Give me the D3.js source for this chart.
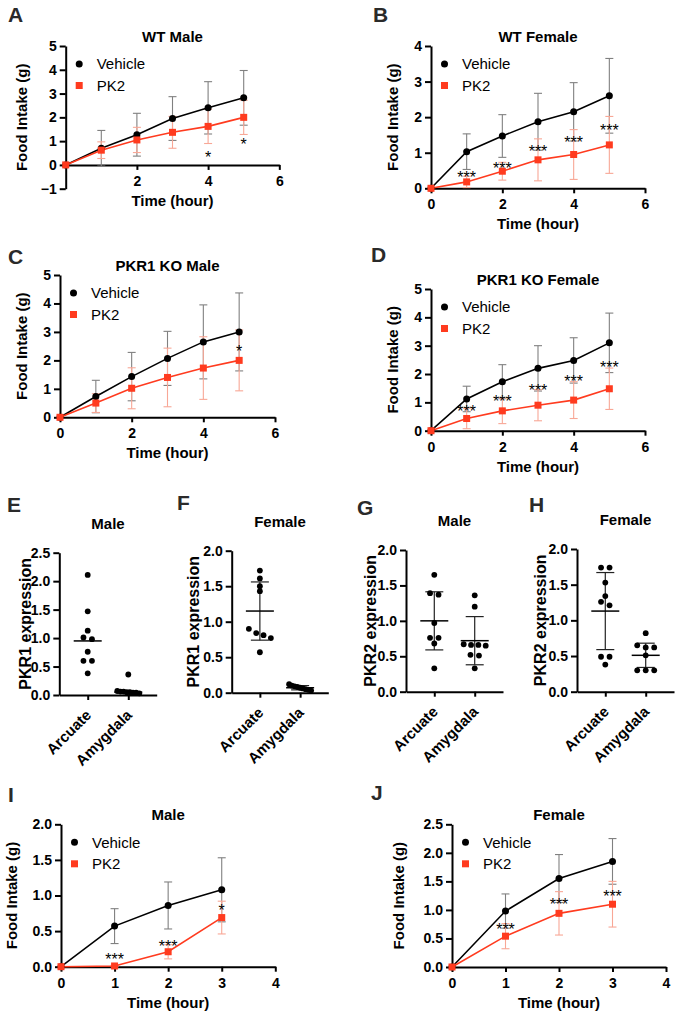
<!DOCTYPE html>
<html><head><meta charset="utf-8">
<script src="https://cdn.jsdelivr.net/npm/d3@7"></script>
<style>
body{margin:0;background:#fff}
svg{display:block}
text{font-family:"Liberation Sans",Arial,sans-serif}
</style>
</head><body>
<svg id="c" width="692" height="1017"></svg>
<script>
// ---------------- DATA ----------------
const seriesNames = ["Vehicle", "PK2"];

// A: WT Male
const aHours = [0,1,2,3,4,5];
const aVehMean = [0,0.70,1.27,1.95,2.40,2.82];
const aVehSD   = [0,0.75,0.90,0.92,1.10,1.15];
const aPkMean  = [0,0.62,1.05,1.37,1.62,2.00];
const aPkSD    = [0,0.35,0.53,0.67,0.72,0.72];
const aStarHours = [4,5];
const aStarLevels = [0.48,1.04];
const aStarLabels = ["*","*"];

// B: WT Female
const bHours = [0,1,2,3,4,5];
const bVehMean = [0,1.03,1.47,1.87,2.15,2.60];
const bVehSD   = [0,0.50,0.60,0.80,0.82,1.05];
const bPkMean  = [0,0.18,0.48,0.80,0.95,1.22];
const bPkSD    = [0,0.16,0.25,0.59,0.70,0.80];
const bStarHours = [1,2,3,4,5];
const bStarLevels = [0.42,0.67,1.15,1.40,1.75];
const bStarLabels = ["***","***","***","***","***"];

// C: PKR1 KO Male
const cHours = [0,1,2,3,4,5];
const cVehMean = [0,0.73,1.43,2.07,2.65,3.00];
const cVehSD   = [0,0.57,0.85,0.95,1.30,1.37];
const cPkMean  = [0,0.50,1.02,1.40,1.73,2.00];
const cPkSD    = [0,0.33,0.72,1.03,1.10,1.07];
const cStarHours = [5];
const cStarLevels = [2.48];
const cStarLabels = ["*"];

// D: PKR1 KO Female
const dHours = [0,1,2,3,4,5];
const dVehMean = [0,1.12,1.73,2.20,2.48,3.10];
const dVehSD   = [0,0.45,0.60,0.80,0.80,1.05];
const dPkMean  = [0,0.43,0.70,0.90,1.08,1.48];
const dPkSD    = [0,0.36,0.45,0.55,0.65,0.73];
const dStarHours = [1,2,3,4,5];
const dStarLevels = [0.82,1.18,1.58,1.88,2.38];
const dStarLabels = ["***","***","***","***","***"];

// I: Male (3 h)
const iHours = [0,1,2,3];
const iVehMean = [0,0.57,0.86,1.08];
const iVehSD   = [0,0.245,0.33,0.45];
const iPkMean  = [0,0.01,0.21,0.69];
const iPkSD    = [0,0.01,0.10,0.23];
const iStarHours = [1,2,3];
const iStarLevels = [0.16,0.35,0.85];
const iStarLabels = ["***","***","*"];

// J: Female (3 h)
const jHours = [0,1,2,3];
const jVehMean = [0,0.98,1.55,1.85];
const jVehSD   = [0,0.30,0.42,0.40];
const jPkMean  = [0,0.54,0.94,1.10];
const jPkSD    = [0,0.22,0.38,0.40];
const jStarHours = [1,2,3];
const jStarLevels = [0.74,1.18,1.31];
const jStarLabels = ["***","***","***"];

// Tick labels
const ticksA_y = [-1,0,1,2,3,4,5];
const ticksA_x = [2,4,6];
const ticks4 = [0,1,2,3,4];
const ticks5 = [0,1,2,3,4,5];
const ticksHour6 = [0,2,4,6];
const ticksHour4 = [0,1,2,3,4];
const ticks2 = [0,0.5,1.0,1.5,2.0];
const ticks25 = [0,0.5,1.0,1.5,2.0,2.5];

// Expression panels
const regions = ["Arcuate","Amygdala"];
const eArc = [2.11,1.47,1.13,1.01,0.98,0.76,0.60,0.60,0.38];
const eAmy = [0.36,0.07,0.06,0.06,0.05,0.05,0.04,0.04,0.03];
const eCenter = [0.95,0.05];
const eSD = [null,null];

const fArc = [1.72,1.61,1.50,1.43,0.90,0.84,0.81,0.77,0.57];
const fAmy = [0.12,0.10,0.09,0.08,0.07,0.06,0.05,0.04,0.03];
const fCenter = [1.15,0.07];
const fSD = [0.41,0.03];

const gArc = [1.65,1.39,1.37,0.97,0.76,0.76,0.68,0.33];
const gAmy = [1.36,1.20,0.67,0.66,0.66,0.65,0.52,0.51,0.33];
const gCenter = [1.00,0.72];
const gSD = [0.41,0.34];

const hArc = [1.74,1.74,1.53,1.34,1.26,1.21,0.49,0.49,0.38];
const hAmy = [0.82,0.65,0.62,0.62,0.51,0.30,0.30,0.30];
const hCenter = [1.13,0.51];
const hSD = [0.54,0.17];

// ---------------- DRAWING ----------------
const svg = d3.select("#c");
const RED = "#ff3b1f";
const RED_ERR = "#f8a796";
const GRAY_ERR = "#808080";
const LETTER = "#2a2a2a";

function styleAxis(sel, fs) {
  sel.attr("font-size", null).attr("font-family", null);
  sel.selectAll("path.domain").attr("stroke", "#000").attr("stroke-width", 2);
  sel.selectAll(".tick line").attr("stroke", "#000").attr("stroke-width", 2);
  sel.selectAll(".tick text").attr("fill", "#000").style("font-size", fs + "px").style("font-weight", "bold");
}

function letter(t, x, y) {
  svg.append("text").attr("x", x).attr("y", y).text(t)
    .style("font-size", "21px").style("font-weight", "bold").attr("fill", LETTER);
}

function lineChart(o) {
  const g = svg.append("g");
  const x = d3.scaleLinear().domain(o.xDomain).range([o.xL, o.xR]);
  const y = d3.scaleLinear().domain(o.yDomain).range([o.yB, o.yT]);
  const fmtY = o.yFmt || d3.format("d");
  g.append("g").attr("transform", `translate(0,${y(0)})`)
    .call(d3.axisBottom(x).tickValues(o.xTicks).tickSize(5).tickPadding(6).tickSizeOuter(0).tickFormat(d3.format("d")))
    .call(s => styleAxis(s, 14));
  g.append("g").attr("transform", `translate(${o.xL},0)`)
    .call(d3.axisLeft(y).tickValues(o.yTicks).tickSize(6).tickPadding(3).tickSizeOuter(0).tickFormat(fmtY))
    .call(s => styleAxis(s, 14));

  const series = [
    {mean: o.veh, sd: o.vehSD, color: "#000", err: GRAY_ERR, shape: "circle"},
    {mean: o.pk, sd: o.pkSD, color: RED, err: RED_ERR, shape: "square"}
  ];
  series.forEach(s => {
    const eg = g.append("g").attr("stroke", s.err).attr("stroke-width", 1.1).attr("fill", "none");
    o.hours.forEach((h, i) => {
      if (!s.sd[i]) return;
      const cx = x(h), y1 = y(s.mean[i] + s.sd[i]), y2 = y(s.mean[i] - s.sd[i]);
      eg.append("line").attr("x1", cx).attr("x2", cx).attr("y1", y1).attr("y2", y2);
      eg.append("line").attr("x1", cx - 4).attr("x2", cx + 4).attr("y1", y1).attr("y2", y1);
      eg.append("line").attr("x1", cx - 4).attr("x2", cx + 4).attr("y1", y2).attr("y2", y2);
    });
  });
  series.forEach(s => {
    g.append("path").datum(o.hours.map((h, i) => [h, s.mean[i]]))
      .attr("fill", "none").attr("stroke", s.color).attr("stroke-width", 1.6)
      .attr("d", d3.line().x(d => x(d[0])).y(d => y(d[1])));
  });
  series.forEach(s => {
    o.hours.forEach((h, i) => {
      if (s.shape === "circle") {
        g.append("circle").attr("cx", x(h)).attr("cy", y(s.mean[i])).attr("r", 3.5).attr("fill", s.color);
      } else {
        g.append("rect").attr("x", x(h) - 3.5).attr("y", y(s.mean[i]) - 3.5).attr("width", 7).attr("height", 7).attr("fill", s.color);
      }
    });
  });
  o.starHours.forEach((h, i) => {
    g.append("text").attr("x", x(h)).attr("y", y(o.starLevels[i])).attr("dy", "0.62em")
      .attr("text-anchor", "middle").style("font-size", "16px").attr("fill", "#000").text(o.starLabels[i]);
  });
  const lx = o.xL + 13.5, ly1 = o.yT + 18, ly2 = o.yT + 39.5;
  g.append("circle").attr("cx", lx).attr("cy", ly1).attr("r", 3.5).attr("fill", "#000");
  g.append("rect").attr("x", lx - 3.5).attr("y", ly2 - 3.5).attr("width", 7).attr("height", 7).attr("fill", RED);
  g.append("text").attr("x", lx + 17.5).attr("y", ly1).attr("dy", "0.36em").style("font-size", "15px").attr("fill", "#000").text(seriesNames[0]);
  g.append("text").attr("x", lx + 17.5).attr("y", ly2).attr("dy", "0.36em").style("font-size", "15px").attr("fill", "#000").text(seriesNames[1]);
  g.append("text").attr("x", (o.xL + o.xR) / 2).attr("y", o.yT - 4.5).attr("text-anchor", "middle")
    .style("font-size", "15px").style("font-weight", "bold").text(o.title);
  g.append("text").attr("x", (o.xL + o.xR) / 2).attr("y", y(0) + 41).attr("text-anchor", "middle")
    .style("font-size", "15px").style("font-weight", "bold").text("Time (hour)");
  g.append("text").attr("transform", `translate(${o.yLabelX + 5},${(o.yT + o.yB) / 2}) rotate(-90)`)
    .attr("text-anchor", "middle").style("font-size", "15px").style("font-weight", "bold").text("Food Intake (g)");
  letter(o.letter, o.lx, o.ly);
}

function jitter(vals, y) {
  const idx = vals.map((v, i) => i).sort((a, b) => vals[b] - vals[a]);
  const off = new Array(vals.length).fill(0);
  const clusters = [];
  let cl = [idx[0]];
  for (let k = 1; k < idx.length; k++) {
    const prev = cl[cl.length - 1];
    if (Math.abs(y(vals[idx[k]]) - y(vals[prev])) < 4.6) cl.push(idx[k]);
    else { clusters.push(cl); cl = [idx[k]]; }
  }
  clusters.push(cl);
  clusters.forEach(c => {
    const n = c.length;
    const sp = n > 1 ? Math.min(8.5, 22 / (n - 1)) : 0;
    c.forEach((i, j) => off[i] = (j - (n - 1) / 2) * sp);
  });
  return off;
}

function dotPlot(o) {
  const g = svg.append("g");
  const x = d3.scalePoint().domain(regions).range([o.xL, o.xR]).padding(0.7);
  const y = d3.scaleLinear().domain([0, o.yMax]).range([o.yB, o.yT]);
  const xa = g.append("g").attr("transform", `translate(0,${o.yB})`)
    .call(d3.axisBottom(x).tickSize(5).tickSizeOuter(0))
    .call(s => styleAxis(s, 15));
  xa.selectAll(".tick text").attr("y", 0).attr("dy", 0).attr("text-anchor", "end")
    .attr("transform", "translate(4,21) rotate(-45)");
  g.append("g").attr("transform", `translate(${o.xL},0)`)
    .call(d3.axisLeft(y).tickValues(o.yTicks).tickSize(6).tickPadding(3).tickSizeOuter(0).tickFormat(d3.format(".1f")))
    .call(s => styleAxis(s, 14));

  [o.arc, o.amy].forEach((vals, k) => {
    const cx = x(regions[k]);
    const off = jitter(vals, y);
    const m = o.center[k], sd = o.sd[k];
    if (sd) {
      g.append("line").attr("x1", cx).attr("x2", cx).attr("y1", y(m + sd)).attr("y2", y(m - sd)).attr("stroke", "#222").attr("stroke-width", 1.2);
      [m + sd, m - sd].forEach(v => g.append("line").attr("x1", cx - 9).attr("x2", cx + 9).attr("y1", y(v)).attr("y2", y(v)).attr("stroke", "#222").attr("stroke-width", 1.2));
    }
    g.append("line").attr("x1", cx - 14).attr("x2", cx + 14).attr("y1", y(m)).attr("y2", y(m)).attr("stroke", "#000").attr("stroke-width", 1.5);
    vals.forEach((v, i) => {
      g.append("circle").attr("cx", cx + off[i]).attr("cy", y(v)).attr("r", 2.9).attr("fill", "#000");
    });
  });
  g.append("text").attr("x", (o.xL + o.xR) / 2).attr("y", o.titleY).attr("text-anchor", "middle")
    .style("font-size", "15px").style("font-weight", "bold").text(o.title);
  g.append("text").attr("transform", `translate(${o.yLabelX + 5.5},${(o.yT + o.yB) / 2}) rotate(-90)`)
    .attr("text-anchor", "middle").style("font-size", "16px").style("font-weight", "bold").text(o.ylab);
  letter(o.letter, o.lx, o.ly);
}

lineChart({letter:"A", lx:8, ly:22, title:"WT Male", xL:65.7, xR:279.3, yT:46, yB:188.7,
  xDomain:[0,6], yDomain:[-1,5], yTicks:ticksA_y, xTicks:ticksA_x, yLabelX:21.7,
  hours:aHours, veh:aVehMean, vehSD:aVehSD, pk:aPkMean, pkSD:aPkSD,
  starHours:aStarHours, starLevels:aStarLevels, starLabels:aStarLabels});
lineChart({letter:"B", lx:373, ly:22, title:"WT Female", xL:431, xR:645, yT:46, yB:188.3,
  xDomain:[0,6], yDomain:[0,4], yTicks:ticks4, xTicks:ticksHour6, yLabelX:392.7,
  hours:bHours, veh:bVehMean, vehSD:bVehSD, pk:bPkMean, pkSD:bPkSD,
  starHours:bStarHours, starLevels:bStarLevels, starLabels:bStarLabels});
lineChart({letter:"C", lx:8, ly:264, title:"PKR1 KO Male", xL:60, xR:275, yT:275, yB:417.3,
  xDomain:[0,6], yDomain:[0,5], yTicks:ticks5, xTicks:ticksHour6, yLabelX:21.7,
  hours:cHours, veh:cVehMean, vehSD:cVehSD, pk:cPkMean, pkSD:cPkSD,
  starHours:cStarHours, starLevels:cStarLevels, starLabels:cStarLabels});
lineChart({letter:"D", lx:371, ly:262, title:"PKR1 KO Female", xL:431, xR:645, yT:289, yB:430.7,
  xDomain:[0,6], yDomain:[0,5], yTicks:ticks5, xTicks:ticksHour6, yLabelX:392.7,
  hours:dHours, veh:dVehMean, vehSD:dVehSD, pk:dPkMean, pkSD:dPkSD,
  starHours:dStarHours, starLevels:dStarLevels, starLabels:dStarLabels});

dotPlot({letter:"E", lx:7, ly:512, title:"Male", titleY:529, xL:59.3, xR:156.7, yT:552.7, yB:695,
  yMax:2.5, yTicks:ticks25, ylab:"PKR1 expression", yLabelX:25, arc:eArc, amy:eAmy, center:eCenter, sd:eSD});
dotPlot({letter:"F", lx:177, ly:510, title:"Female", titleY:526.7, xL:231.7, xR:328.3, yT:550.7, yB:692.7,
  yMax:2, yTicks:ticks2, ylab:"PKR1 expression", yLabelX:193.3, arc:fArc, amy:fAmy, center:fCenter, sd:fSD});
dotPlot({letter:"G", lx:357, ly:515, title:"Male", titleY:525.7, xL:406, xR:503, yT:550, yB:691.7,
  yMax:2, yTicks:ticks2, ylab:"PKR2 expression", yLabelX:370.7, arc:gArc, amy:gAmy, center:gCenter, sd:gSD});
dotPlot({letter:"H", lx:529, ly:512, title:"Female", titleY:525, xL:577, xR:674, yT:549, yB:691.7,
  yMax:2, yTicks:ticks2, ylab:"PKR2 expression", yLabelX:540.3, arc:hArc, amy:hAmy, center:hCenter, sd:hSD});

lineChart({letter:"I", lx:8, ly:802, title:"Male", xL:61, xR:275.3, yT:824.3, yB:966.7,
  xDomain:[0,4], yDomain:[0,2], yTicks:ticks2, xTicks:ticksHour4, yLabelX:11.7, yFmt:d3.format(".1f"),
  hours:iHours, veh:iVehMean, vehSD:iVehSD, pk:iPkMean, pkSD:iPkSD,
  starHours:iStarHours, starLevels:iStarLevels, starLabels:iStarLabels});
lineChart({letter:"J", lx:371, ly:800, title:"Female", xL:452, xR:666, yT:824.3, yB:967,
  xDomain:[0,4], yDomain:[0,2.5], yTicks:ticks25, xTicks:ticksHour4, yLabelX:399.3, yFmt:d3.format(".1f"),
  hours:jHours, veh:jVehMean, vehSD:jVehSD, pk:jPkMean, pkSD:jPkSD,
  starHours:jStarHours, starLevels:jStarLevels, starLabels:jStarLabels});
</script>
</body></html>
